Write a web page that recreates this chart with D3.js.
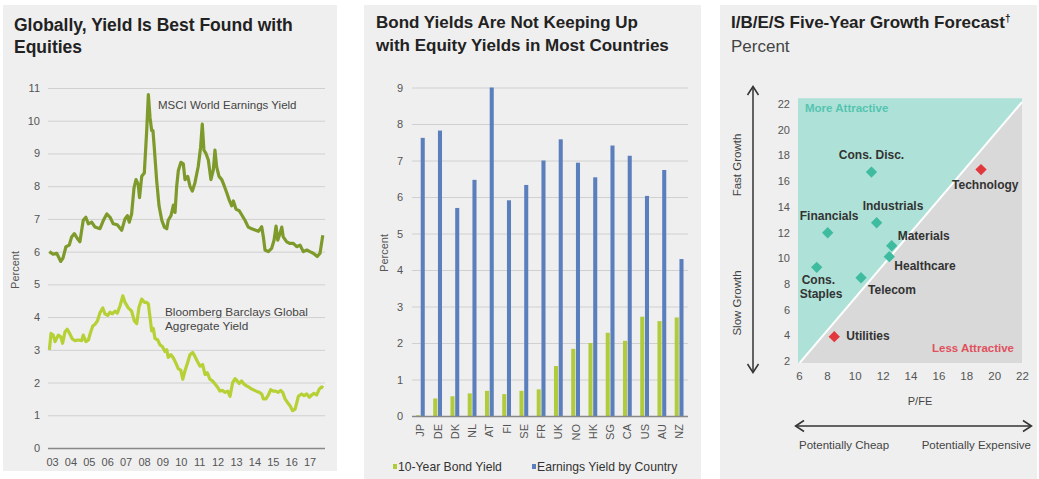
<!DOCTYPE html>
<html><head><meta charset="utf-8">
<script src="https://cdn.jsdelivr.net/npm/d3@7"></script>
<style>
body{margin:0;background:#fff;}
svg text{font-family:"Liberation Sans", Arial, sans-serif;}
</style></head><body>
<svg id="c" width="1039" height="479"></svg>
<script>
// ---------- Panel 1 data ----------
const years = [2003,2004,2005,2006,2007,2008,2009,2010,2011,2012,2013,2014,2015,2016,2017];
const yearLabels = ["03","04","05","06","07","08","09","10","11","12","13","14","15","16","17"];
const percentTicks1 = [0,1,2,3,4,5,6,7,8,9,10,11];
const msciT = [2003.02,2003.22,2003.42,2003.64,2003.76,2003.92,2004.10,2004.23,2004.38,2004.54,2004.68,2004.86,2005.00,2005.14,2005.32,2005.50,2005.77,2005.95,2006.14,2006.32,2006.49,2006.71,2006.95,2007.13,2007.26,2007.36,2007.49,2007.62,2007.73,2007.85,2007.92,2008.04,2008.18,2008.31,2008.40,2008.49,2008.58,2008.65,2008.72,2008.85,2008.98,2009.13,2009.27,2009.40,2009.48,2009.63,2009.76,2009.85,2009.94,2010.03,2010.17,2010.30,2010.39,2010.54,2010.66,2010.79,2010.93,2011.11,2011.24,2011.33,2011.42,2011.53,2011.66,2011.80,2011.93,2012.02,2012.11,2012.24,2012.39,2012.53,2012.66,2012.78,2012.93,2013.02,2013.16,2013.34,2013.65,2013.83,2014.02,2014.20,2014.38,2014.56,2014.65,2014.74,2014.92,2015.10,2015.23,2015.34,2015.43,2015.55,2015.65,2015.73,2015.92,2016.10,2016.28,2016.46,2016.64,2016.82,2017.01,2017.18,2017.36,2017.58,2017.73,2017.88];
const msciV = [6.0,5.92,5.95,5.7,5.8,6.15,6.2,6.45,6.55,6.4,6.3,6.96,7.05,6.85,6.9,6.75,6.7,6.95,7.15,7.05,6.85,6.82,6.65,7.0,7.1,6.9,7.15,7.95,8.2,8.05,7.65,8.3,8.4,9.7,10.8,10.1,9.7,9.7,9.19,8.18,7.4,6.96,6.75,6.7,6.96,7.1,7.42,7.2,8.0,8.48,8.73,8.68,8.2,8.3,8.0,7.85,8.1,8.6,9.19,9.9,9.1,9.0,8.8,8.2,8.5,9.1,8.6,8.3,8.2,8.0,7.8,7.6,7.4,7.55,7.3,7.25,6.96,6.75,6.7,6.66,6.62,6.76,6.45,6.05,6.0,6.1,6.35,6.78,6.35,6.55,6.75,6.45,6.3,6.25,6.25,6.15,6.2,6.0,6.05,6.0,5.95,5.85,5.95,6.5];
const bbT = [2003.02,2003.11,2003.23,2003.33,2003.51,2003.64,2003.74,2003.87,2003.99,2004.14,2004.27,2004.41,2004.59,2004.78,2004.86,2005.01,2005.14,2005.27,2005.38,2005.50,2005.63,2005.77,2005.92,2006.04,2006.19,2006.32,2006.44,2006.59,2006.71,2006.86,2007.01,2007.13,2007.31,2007.49,2007.64,2007.77,2007.89,2008.04,2008.18,2008.31,2008.40,2008.49,2008.58,2008.67,2008.76,2008.91,2009.03,2009.16,2009.30,2009.40,2009.48,2009.63,2009.76,2009.89,2010.03,2010.16,2010.27,2010.39,2010.54,2010.66,2010.81,2010.93,2011.06,2011.21,2011.35,2011.48,2011.60,2011.75,2011.88,2012.02,2012.17,2012.29,2012.42,2012.57,2012.71,2012.84,2012.98,2013.11,2013.23,2013.34,2013.47,2013.60,2013.74,2013.89,2014.02,2014.14,2014.29,2014.43,2014.56,2014.65,2014.79,2014.92,2015.05,2015.19,2015.32,2015.46,2015.59,2015.70,2015.83,2015.95,2016.10,2016.24,2016.37,2016.46,2016.55,2016.73,2016.86,2017.01,2017.15,2017.28,2017.40,2017.55,2017.69,2017.82,2017.91];
const bbV = [3.0,3.5,3.45,3.25,3.45,3.4,3.2,3.55,3.63,3.48,3.33,3.28,3.3,3.28,3.45,3.25,3.3,3.55,3.73,3.78,3.88,4.13,4.28,4.1,4.05,4.15,4.1,4.18,4.12,4.34,4.65,4.45,4.28,4.18,3.88,3.8,4.3,4.55,4.45,4.45,4.4,4.0,3.58,3.65,3.35,3.3,3.15,3.1,2.95,3.0,2.77,2.85,2.75,2.6,2.42,2.38,2.1,2.36,2.62,2.85,2.92,2.8,2.65,2.5,2.55,2.25,2.3,2.1,2.05,1.96,1.85,1.74,1.76,1.7,1.74,1.58,2.0,2.12,2.05,1.97,2.05,1.95,1.9,1.85,1.8,1.77,1.73,1.7,1.65,1.5,1.5,1.62,1.78,1.74,1.74,1.7,1.76,1.7,1.5,1.4,1.29,1.14,1.18,1.37,1.58,1.65,1.6,1.65,1.55,1.62,1.67,1.62,1.8,1.87,1.84];

// ---------- Panel 2 data ----------
const countries = ["JP","DE","DK","NL","AT","FI","SE","FR","UK","NO","HK","SG","CA","US","AU","NZ"];
const bondYield = [0.02,0.48,0.54,0.62,0.69,0.6,0.69,0.73,1.37,1.84,2.0,2.28,2.06,2.72,2.6,2.7];
const earningsYield = [7.62,7.82,5.7,6.47,9.0,5.91,6.33,7.0,7.58,6.94,6.54,7.41,7.13,6.03,6.74,4.3];
const percentTicks2 = [0,1,2,3,4,5,6,7,8,9];
const seriesNames2 = ["10-Year Bond Yield","Earnings Yield by Country"];

// ---------- Panel 3 data ----------
const sectors = ["Cons. Disc.","Technology","Industrials","Financials","Materials","Healthcare","Cons. Staples","Telecom","Utilities"];
const pfe = [11.2,19.06,11.57,8.06,12.65,12.48,7.27,10.45,8.53];
const growth = [16.7,16.9,12.76,11.98,10.97,10.12,9.29,8.48,3.89];
const attractive = [true,false,true,true,true,true,true,true,false];
const ticks3 = [2,4,6,8,10,12,14,16,18,20,22];
const xticks3 = [6,8,10,12,14,16,18,20,22];

// ---------- layout / styles (not data) ----------
const labelLayout = [
  {dx:0,dy:-13,anchor:"middle"},
  {dx:-29,dy:19,anchor:"start"},
  {dx:-14,dy:-12.5,anchor:"start"},
  {dx:-28,dy:-12.5,anchor:"start"},
  {dx:6,dy:-5.5,anchor:"start"},
  {dx:5,dy:13.5,anchor:"start"},
  {dx:-15,dy:17,anchor:"start",lines:["Cons.","Staples"]},
  {dx:7,dy:16,anchor:"start"},
  {dx:12,dy:3.5,anchor:"start"}
];
const C = {panel:"#efefef", grid:"#d0d0d0", axis:"#888", tick:"#555", title:"#222",
  msci:"#7d9a2b", bb:"#b5d136", bond:"#b0cb3c", earn:"#5b7fbc",
  teal:"#aee2d8", gray:"#d9d9d9", tealPt:"#3fbc9f", redPt:"#e1373d"};

const svg = d3.select("#c");
svg.selectAll("rect.panel").data([[3,5,334,466],[364,5,337,474],[720,5,317,474]]).join("rect")
  .attr("class","panel").attr("x",d=>d[0]).attr("y",d=>d[1]).attr("width",d=>d[2]).attr("height",d=>d[3]).attr("fill",C.panel);

function title(lines, x, y0, step, size){
  lines.forEach((l,i)=>{
    const t = svg.append("text").attr("x",x).attr("y",y0+i*step)
      .attr("fill",l.c||C.title).style("font-size",(l.s||size)+"px").style("font-weight",l.w||"bold");
    t.append("tspan").text(l.t);
    if(l.sup) t.append("tspan").attr("dy",-6).style("font-size","10px").text(l.sup);
  });
}
function styleAxis(g, size){
  g.select(".domain").remove();
  g.selectAll("text").attr("fill",C.tick).style("font-size",(size||11)+"px");
}

// ================= Panel 1 =================
title([{t:"Globally, Yield Is Best Found with"},{t:"Equities"}],14,31,21.5,17.5);
const x1 = d3.scaleLinear().domain([2003,2018]).range([49,325]);
const y1 = d3.scaleLinear().domain([0,11]).range([448,88]);
const ya1 = svg.append("g").attr("transform","translate(48,0)")
  .call(d3.axisLeft(y1).tickValues(percentTicks1).tickSize(-277).tickPadding(8));
styleAxis(ya1);
ya1.selectAll(".tick line").attr("stroke",d=>d===0?C.axis:C.grid).attr("stroke-width",d=>d===0?1.6:1);
const xa1 = svg.append("g").attr("transform","translate(0,448)")
  .call(d3.axisBottom(x1).tickValues(years).tickFormat((d,i)=>yearLabels[i]).tickSize(0).tickPadding(10));
styleAxis(xa1);
xa1.selectAll("text").attr("dx",3);
svg.append("text").attr("transform","translate(19,270) rotate(-90)").attr("text-anchor","middle")
  .attr("fill",C.tick).style("font-size","11px").text("Percent");
const line1 = d3.line().x(d=>x1(d[0])).y(d=>y1(d[1])).curve(d3.curveLinear);
svg.append("path").datum(d3.zip(bbT,bbV)).attr("d",line1).attr("fill","none")
  .attr("stroke",C.bb).attr("stroke-width",3.2).attr("stroke-linejoin","round");
svg.append("path").datum(d3.zip(msciT,msciV)).attr("d",line1).attr("fill","none")
  .attr("stroke",C.msci).attr("stroke-width",3.2).attr("stroke-linejoin","round");
svg.append("text").attr("x",158).attr("y",109).attr("fill","#444").style("font-size","11.5px").text("MSCI  World Earnings  Yield");
svg.append("text").attr("x",165).attr("y",316).attr("fill","#444").style("font-size","11.8px").text("Bloomberg Barclays Global");
svg.append("text").attr("x",165).attr("y",330).attr("fill","#444").style("font-size","11.8px").text("Aggregate Yield");

// ================= Panel 2 =================
title([{t:"Bond Yields Are Not Keeping Up"},{t:"with Equity Yields in Most Countries"}],376,28,23,17);
const x2 = d3.scaleBand().domain(countries).range([412,688]);
const x2s = d3.scaleBand().domain(["bond","earn"]).range([x2.bandwidth()*0.23,x2.bandwidth()*0.74]).paddingInner(0.14);
const y2 = d3.scaleLinear().domain([0,9]).range([416,87.5]);
const grid2 = svg.append("g").attr("transform","translate(412,0)")
  .call(d3.axisLeft(y2).tickValues(percentTicks2.filter(d=>d>0)).tickSize(-276).tickFormat(""));
grid2.select(".domain").remove();
grid2.selectAll(".tick line").attr("stroke",C.grid);
svg.append("g").selectAll("rect").data(countries).join("rect")
  .attr("x",d=>x2(d)+x2s("bond")).attr("width",x2s.bandwidth())
  .attr("y",(d,i)=>y2(bondYield[i])).attr("height",(d,i)=>y2(0)-y2(bondYield[i])).attr("fill",C.bond);
svg.append("g").selectAll("rect").data(countries).join("rect")
  .attr("x",d=>x2(d)+x2s("earn")).attr("width",x2s.bandwidth())
  .attr("y",(d,i)=>y2(earningsYield[i])).attr("height",(d,i)=>y2(0)-y2(earningsYield[i])).attr("fill",C.earn);
const ya2 = svg.append("g").attr("transform","translate(412,0)")
  .call(d3.axisLeft(y2).tickValues(percentTicks2).tickSize(-276).tickPadding(9));
styleAxis(ya2);
ya2.selectAll(".tick line").attr("stroke",d=>d===0?C.axis:"none").attr("stroke-width",1.6);
const xa2 = svg.append("g").attr("transform","translate(0,416)")
  .call(d3.axisBottom(x2).tickSize(0));
styleAxis(xa2);
xa2.selectAll("text").attr("transform","rotate(-90)").attr("x",-8).attr("y",0).attr("dy","0.35em")
  .attr("text-anchor","end");
svg.append("text").attr("transform","translate(388,253) rotate(-90)").attr("text-anchor","middle")
  .attr("fill",C.tick).style("font-size","11px").text("Percent");
const leg2 = svg.append("g").selectAll("g").data(seriesNames2).join("g")
  .attr("transform",(d,i)=>`translate(${[393,532][i]},471)`);
leg2.append("rect").attr("x",0).attr("y",-7).attr("width",4).attr("height",5).attr("fill",(d,i)=>[C.bond,C.earn][i]);
leg2.append("text").attr("x",5).attr("y",0).attr("fill","#333").style("font-size","12.2px").text(d=>d);

// ================= Panel 3 =================
title([{t:"I/B/E/S Five-Year Growth Forecast",sup:"†"},{t:"Percent",w:"normal",c:"#444"}],731,28,24,17);
const x3 = d3.scaleLinear().domain([6,22]).range([799,1022]);
const y3 = d3.scaleLinear().domain([2,22]).range([361,104]);
const xL = x3(6)-1, xR = x3(22), yT = y3(22.45), yB = y3(1.85);
svg.append("rect").attr("x",xL).attr("y",yT).attr("width",xR-xL).attr("height",yB-yT).attr("fill",C.teal);
svg.append("path").attr("d",`M${x3(6.05)},${yB}L${xR},${y3(22.15)}L${xR},${yB}Z`).attr("fill",C.gray);
svg.append("line").attr("x1",x3(6.05)).attr("y1",yB).attr("x2",xR).attr("y2",y3(22.15))
  .attr("stroke","#fff").attr("stroke-width",2);
const ya3 = svg.append("g").attr("transform",`translate(${x3(6)},0)`)
  .call(d3.axisLeft(y3).tickValues(ticks3).tickSize(0).tickPadding(9));
styleAxis(ya3,11);
const xa3 = svg.append("g").attr("transform",`translate(0,${yB})`)
  .call(d3.axisBottom(x3).tickValues(xticks3).tickSize(0).tickPadding(9));
styleAxis(xa3,11.5);
svg.append("text").attr("x",805).attr("y",112).attr("fill","#55c4b0").style("font-size","11.5px").style("font-weight","bold").text("More Attractive");
svg.append("text").attr("x",1014).attr("y",352).attr("text-anchor","end").attr("fill","#e0505c").style("font-size","11.5px").style("font-weight","bold").text("Less Attractive");
const pts = svg.append("g").selectAll("g").data(sectors).join("g")
  .attr("transform",(d,i)=>`translate(${x3(pfe[i])},${y3(growth[i])})`);
pts.append("path").attr("d",d3.symbol().type(d3.symbolSquare).size(64)).attr("transform","rotate(45)")
  .attr("fill",(d,i)=>attractive[i]?C.tealPt:C.redPt);
pts.each(function(d,i){
  const L = labelLayout[i];
  const lines = L.lines || [d];
  lines.forEach((t,k)=>d3.select(this).append("text").attr("x",L.dx-(k?2:0)).attr("y",L.dy+k*14)
    .attr("text-anchor",L.anchor).attr("fill","#333").style("font-size","12px").style("font-weight","bold").text(t));
});
// axes arrows and labels
const arr = svg.append("g").attr("stroke","#333").attr("stroke-width",1.5).attr("fill","none");
arr.append("line").attr("x1",753).attr("y1",87).attr("x2",753).attr("y2",372);
arr.append("path").attr("d","M747.5,95L753,86.5L758.5,95");
arr.append("path").attr("d","M747.5,364L753,372.5L758.5,364");
arr.append("line").attr("x1",796).attr("y1",426).attr("x2",1031).attr("y2",426);
arr.append("path").attr("d","M804,420.5L795.5,426L804,431.5");
arr.append("path").attr("d","M1023,420.5L1031.5,426L1023,431.5");
svg.append("text").attr("transform","translate(741,165) rotate(-90)").attr("text-anchor","middle").attr("fill","#444").style("font-size","11.5px").text("Fast Growth");
svg.append("text").attr("transform","translate(741,303) rotate(-90)").attr("text-anchor","middle").attr("fill","#444").style("font-size","11.5px").text("Slow Growth");
svg.append("text").attr("x",920).attr("y",405).attr("text-anchor","middle").attr("fill","#444").style("font-size","11px").text("P/FE");
svg.append("text").attr("x",799).attr("y",449).attr("fill","#444").style("font-size","11.5px").text("Potentially Cheap");
svg.append("text").attr("x",1031).attr("y",449).attr("text-anchor","end").attr("fill","#444").style("font-size","11.5px").text("Potentially Expensive");
</script></body></html>
